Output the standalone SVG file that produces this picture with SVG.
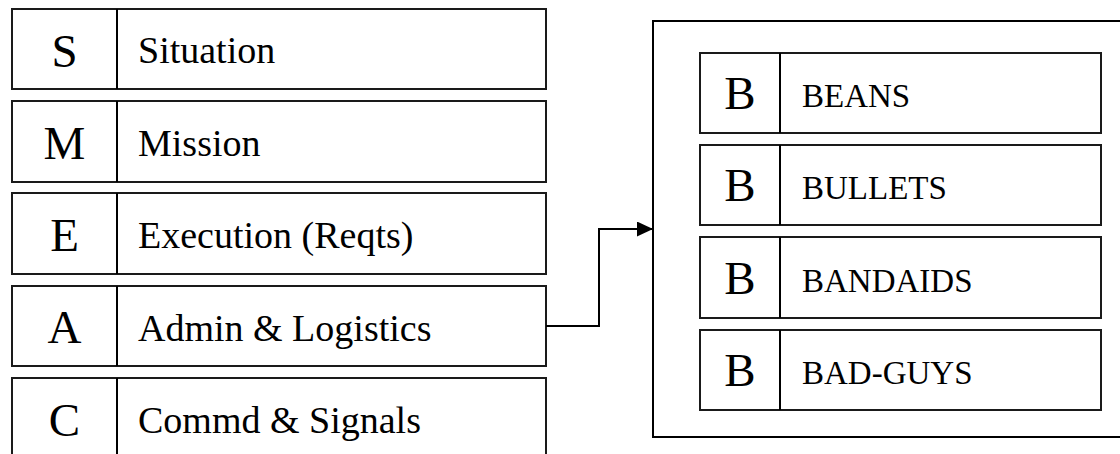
<svg xmlns="http://www.w3.org/2000/svg" width="1120" height="454" viewBox="0 0 1120 454">
<style>
  .box{fill:#fff;stroke:#1a1a1a;stroke-width:2}
  .div{stroke:#000;stroke-width:2}
  .big{font-family:"Liberation Serif","Times New Roman",serif;font-size:47px;fill:#000;text-anchor:middle}
  .lbl{font-family:"Liberation Serif","Times New Roman",serif;font-size:38px;fill:#000}
  .lblr{font-family:"Liberation Serif","Times New Roman",serif;font-size:33px;fill:#000}
  .outer{fill:none;stroke:#000;stroke-width:2}
  .conn{fill:none;stroke:#000;stroke-width:2}
</style>
<defs>
  <marker id="arrow" markerUnits="userSpaceOnUse" markerWidth="16" markerHeight="15" refX="16" refY="7.5" orient="auto">
    <path d="M0,0 L16,7.5 L0,15 Z" fill="#000"/>
  </marker>
</defs>
<rect width="1120" height="454" fill="#fff"/>

<g id="node-S">
  <rect class="box" x="12" y="9" width="534" height="80"/>
  <line class="div" x1="117" y1="9" x2="117" y2="89"/>
  <text class="big" x="64.5" y="67">S</text>
  <text class="lbl" x="138" y="63">Situation</text>
</g>
<g id="node-M">
  <rect class="box" x="12" y="101" width="534" height="81"/>
  <line class="div" x1="117" y1="101" x2="117" y2="182"/>
  <text class="big" x="64.5" y="159">M</text>
  <text class="lbl" x="138" y="156">Mission</text>
</g>
<g id="node-E">
  <rect class="box" x="12" y="193" width="534" height="81"/>
  <line class="div" x1="117" y1="193" x2="117" y2="274"/>
  <text class="big" x="64.5" y="251">E</text>
  <text class="lbl" x="138" y="248">Execution (Reqts)</text>
</g>
<g id="node-A">
  <rect class="box" x="12" y="286" width="534" height="80"/>
  <line class="div" x1="117" y1="286" x2="117" y2="366"/>
  <text class="big" x="64.5" y="343">A</text>
  <text class="lbl" x="138" y="341">Admin &amp; Logistics</text>
</g>
<g id="node-C">
  <rect class="box" x="12" y="378" width="534" height="82"/>
  <line class="div" x1="117" y1="378" x2="117" y2="460"/>
  <text class="big" x="64.5" y="436">C</text>
  <text class="lbl" x="138" y="433">Commd &amp; Signals</text>
</g>

<g id="node-BBBB">
  <rect class="outer" x="653" y="21" width="480" height="416"/>
  <g id="node-beans">
    <rect class="box" x="700" y="53" width="401" height="80"/>
    <line class="div" x1="780" y1="53" x2="780" y2="133"/>
    <text class="big" x="740" y="109">B</text>
    <text class="lblr" x="802" y="107">BEANS</text>
  </g>
  <g id="node-bullets">
    <rect class="box" x="700" y="145" width="401" height="80"/>
    <line class="div" x1="780" y1="145" x2="780" y2="225"/>
    <text class="big" x="740" y="201">B</text>
    <text class="lblr" x="802" y="199">BULLETS</text>
  </g>
  <g id="node-bandaids">
    <rect class="box" x="700" y="237" width="401" height="81"/>
    <line class="div" x1="780" y1="237" x2="780" y2="318"/>
    <text class="big" x="740" y="294">B</text>
    <text class="lblr" x="802" y="292">BANDAIDS</text>
  </g>
  <g id="node-badguys">
    <rect class="box" x="700" y="330" width="401" height="80"/>
    <line class="div" x1="780" y1="330" x2="780" y2="410"/>
    <text class="big" x="740" y="386">B</text>
    <text class="lblr" x="802" y="384">BAD-GUYS</text>
  </g>
</g>

<g id="connectors">
  <path class="conn" d="M546,326 L599,326 L599,229 L653,229" marker-end="url(#arrow)"/>
</g>
</svg>
